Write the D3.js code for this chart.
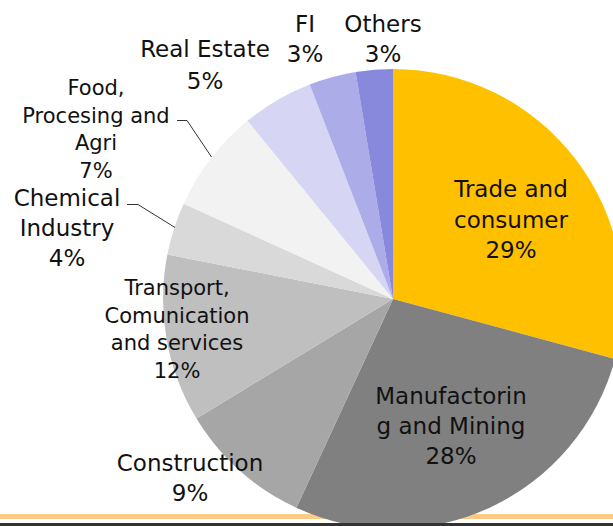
<!DOCTYPE html>
<html>
<head>
<meta charset="utf-8">
<script src="https://cdn.jsdelivr.net/npm/d3@7"></script>
<style>
  html, body { margin: 0; padding: 0; background: #fff; }
  svg { display: block; }
  text { font-family: "DejaVu Sans", sans-serif; fill: #111; }
</style>
</head>
<body>
<svg id="chart" width="613" height="526"></svg>
<script>
// ---- data ----
const categories = [
  "Trade and consumer",
  "Manufactoring and Mining",
  "Construction",
  "Transport, Comunication and services",
  "Chemical Industry",
  "Food, Procesing and Agri",
  "Real Estate",
  "FI",
  "Others"
];
const shares = [29.2, 27.7, 9.4, 11.8, 3.7, 7.3, 5.0, 3.3, 2.6];
const percentLabels = ["29%", "28%", "9%", "12%", "4%", "7%", "5%", "3%", "3%"];
const labelLines = [
  ["Trade and", "consumer"],
  ["Manufactorin", "g and Mining"],
  ["Construction"],
  ["Transport,", "Comunication", "and services"],
  ["Chemical", "Industry"],
  ["Food,", "Procesing and", "Agri"],
  ["Real Estate"],
  ["FI"],
  ["Others"]
];
const colors = ["#FFC000", "#808080", "#A6A6A6", "#BFBFBF", "#D9D9D9", "#F2F2F2", "#D6D6F4", "#ACACE9", "#8888DD"];

// ---- layout ----
const cx = 393, cy = 299, R = 230;
// label anchor (center x, first baseline y, line spacing, font size)
const labelLayout = [
  {x: 511, y: 197, dy: 30.5, fs: 23},
  {x: 451, y: 404, dy: 30,   fs: 23},
  {x: 190, y: 471, dy: 30,   fs: 23},
  {x: 177, y: 295, dy: 27.5, fs: 21},
  {x: 67,  y: 206, dy: 30,   fs: 23},
  {x: 96,  y: 95,  dy: 27.7, fs: 21},
  {x: 205, y: 57,  dy: 32,   fs: 23},
  {x: 305, y: 32,  dy: 30,   fs: 23},
  {x: 383, y: 32,  dy: 30,   fs: 23}
];
// leader lines (index -> polyline)
const leaders = {
  4: [[127, 204.5], [138, 204.5], [175, 227.5]],
  5: [[177, 120.5], [187, 120.5], [211.5, 157]]
};

const svg = d3.select("#chart");

// bottom decoration (orange band)
svg.append("rect").attr("x", 0).attr("y", 514).attr("width", 613).attr("height", 5).attr("fill", "#FCCB88");

const pie = d3.pie().sort(null).value(d => d)(shares);
const arc = d3.arc().innerRadius(0).outerRadius(R);

const g = svg.append("g").attr("transform", `translate(${cx},${cy})`);
g.selectAll("path")
  .data(pie)
  .join("path")
  .attr("d", arc)
  .attr("fill", (d, i) => colors[i]);

// dark bottom line
svg.append("rect").attr("x", 0).attr("y", 523).attr("width", 613).attr("height", 3).attr("fill", "#333333");

// leader lines
const line = d3.line();
Object.entries(leaders).forEach(([i, pts]) => {
  svg.append("path").attr("d", line(pts)).attr("fill", "none").attr("stroke", "#333").attr("stroke-width", 1);
});

// labels
categories.forEach((c, i) => {
  const L = labelLayout[i];
  const lines = labelLines[i].concat([percentLabels[i]]);
  const t = svg.append("text").attr("text-anchor", "middle").style("font-size", L.fs + "px");
  lines.forEach((s, k) => {
    t.append("tspan").attr("x", L.x).attr("y", L.y + k * L.dy).text(s);
  });
});
</script>
</body>
</html>
